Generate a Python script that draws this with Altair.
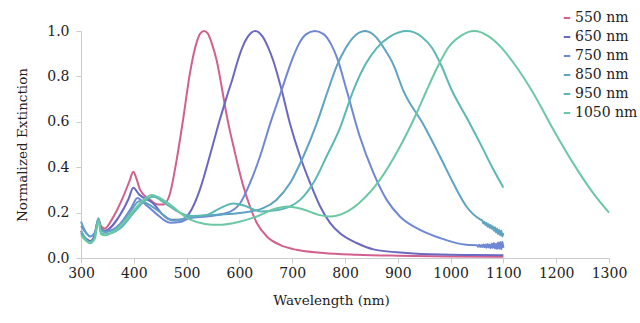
import altair as alt
import pandas as pd

# Series labels and colours
series = ["550 nm", "650 nm", "750 nm", "850 nm", "950 nm", "1050 nm"]
colors = ["#d2608f", "#6a68c0", "#6f88d4", "#5fa3c4", "#5cb8b4", "#6cc7a4"]

# Wavelength (nm) / normalized extinction
wl_550 = [300, 310, 318, 326, 333, 338, 345, 361, 380, 392, 399, 405, 412, 431, 446, 456, 468, 481, 494, 506, 519, 526, 533, 540, 547, 557, 566, 575, 582, 590, 597, 607, 620, 633, 652, 677, 708, 759, 822, 900, 1000, 1100]
v_550 = [0.12, 0.08, 0.066, 0.1, 0.17, 0.14, 0.13, 0.18, 0.27, 0.34, 0.38, 0.35, 0.30, 0.256, 0.236, 0.236, 0.28, 0.43, 0.62, 0.81, 0.95, 0.99, 1.0, 0.99, 0.95, 0.87, 0.76, 0.64, 0.56, 0.48, 0.41, 0.32, 0.227, 0.154, 0.095, 0.058, 0.036, 0.022, 0.0145, 0.01, 0.007, 0.006]

wl_650 = [300, 310, 317, 326, 333, 338, 345, 374, 390, 399, 410, 437, 455, 470, 490, 506, 525, 544, 563, 576, 587, 597, 606, 616, 630, 644, 654, 664, 680, 696, 715, 734, 753, 772, 790, 822, 854, 917, 980, 1040, 1100]
v_650 = [0.11, 0.085, 0.075, 0.1, 0.17, 0.13, 0.12, 0.19, 0.26, 0.31, 0.28, 0.24, 0.19, 0.168, 0.168, 0.2, 0.30, 0.45, 0.61, 0.71, 0.79, 0.87, 0.93, 0.975, 1.0, 0.975, 0.93, 0.87, 0.74, 0.59, 0.447, 0.33, 0.227, 0.154, 0.11, 0.066, 0.038, 0.022, 0.015, 0.013, 0.012]

wl_750 = [300, 310, 317, 326, 333, 338, 345, 374, 395, 407, 420, 440, 469, 490, 506, 538, 576, 601, 620, 639, 658, 680, 700, 712, 726, 743, 760, 774, 786, 803, 828, 854, 879, 904, 942, 980, 1030,
          1050, 1052, 1054, 1056, 1058, 1060, 1062, 1064, 1066, 1068, 1070, 1072, 1074, 1076, 1078, 1080, 1082, 1084, 1086, 1088, 1090, 1092, 1094, 1096, 1098, 1100]
v_750 = [0.14, 0.11, 0.095, 0.11, 0.17, 0.125, 0.115, 0.15, 0.22, 0.264, 0.24, 0.2, 0.155, 0.16, 0.176, 0.183, 0.198, 0.24, 0.33, 0.447, 0.59, 0.74, 0.875, 0.94, 0.985, 1.0, 0.985, 0.94, 0.875, 0.74, 0.535, 0.374, 0.256, 0.183, 0.124, 0.088, 0.058,
         0.056, 0.05, 0.058, 0.049, 0.057, 0.048, 0.06, 0.047, 0.059, 0.045, 0.062, 0.046, 0.06, 0.043, 0.064, 0.044, 0.066, 0.042, 0.063, 0.04, 0.068, 0.041, 0.07, 0.038, 0.072, 0.045]

wl_850 = [300, 310, 317, 326, 333, 338, 345, 374, 395, 410, 425, 445, 475, 506, 557, 601, 645, 670, 696, 721, 746, 768, 785, 800, 815, 838, 860, 875, 892, 910, 948, 980, 1005, 1030, 1056,
          1060, 1062, 1064, 1066, 1068, 1070, 1072, 1074, 1076, 1078, 1080, 1082, 1084, 1086, 1088, 1090, 1092, 1094, 1096, 1098, 1100]
v_850 = [0.16, 0.11, 0.095, 0.11, 0.175, 0.125, 0.115, 0.145, 0.21, 0.25, 0.24, 0.21, 0.165, 0.18, 0.19, 0.198, 0.22, 0.256, 0.33, 0.447, 0.59, 0.74, 0.85, 0.92, 0.97, 1.0, 0.97, 0.92, 0.85, 0.74, 0.59, 0.447, 0.33, 0.227, 0.17,
         0.165, 0.152, 0.16, 0.145, 0.155, 0.138, 0.15, 0.132, 0.145, 0.128, 0.14, 0.12, 0.135, 0.112, 0.13, 0.105, 0.125, 0.1, 0.12, 0.095, 0.11]

wl_950 = [300, 310, 317, 326, 333, 338, 345, 374, 400, 420, 437, 460, 487, 510, 538, 560, 588, 610, 640, 670, 696, 715, 740, 765, 790, 816, 838, 860, 885, 917, 945, 965, 982, 1002, 1030, 1056, 1081, 1100]
v_950 = [0.12, 0.08, 0.07, 0.09, 0.17, 0.11, 0.105, 0.13, 0.2, 0.25, 0.27, 0.24, 0.2, 0.185, 0.19, 0.215, 0.24, 0.23, 0.205, 0.21, 0.227, 0.256, 0.33, 0.447, 0.57, 0.74, 0.85, 0.925, 0.975, 1.0, 0.975, 0.925, 0.85, 0.74, 0.62, 0.505, 0.39, 0.31]

wl_1050 = [300, 310, 317, 326, 333, 338, 345, 374, 400, 420, 434, 460, 506, 535, 560, 600, 633, 665, 690, 720, 750, 772, 800, 828, 866, 904, 936, 955, 975, 995, 1020, 1045, 1070, 1095, 1119, 1157, 1195, 1232, 1270, 1300]
v_1050 = [0.1, 0.075, 0.065, 0.085, 0.165, 0.105, 0.1, 0.14, 0.21, 0.26, 0.278, 0.25, 0.17, 0.15, 0.146, 0.16, 0.183, 0.215, 0.227, 0.215, 0.19, 0.183, 0.2, 0.245, 0.344, 0.49, 0.64, 0.74, 0.84, 0.925, 0.98, 1.0, 0.98, 0.93, 0.86, 0.725, 0.564, 0.418, 0.286, 0.2]

wls = [wl_550, wl_650, wl_750, wl_850, wl_950, wl_1050]
vals = [v_550, v_650, v_750, v_850, v_950, v_1050]

rows = []
for name, w, v in zip(series, wls, vals):
    for a, b in zip(w, v):
        rows.append({"series": name, "wavelength": a, "value": b})
df = pd.DataFrame(rows)

FONT = "DejaVu Serif"

chart = alt.Chart(df).mark_line(strokeWidth=2, interpolate="monotone").encode(
    x=alt.X("wavelength:Q",
            scale=alt.Scale(domain=[300, 1300], nice=False, zero=False),
            axis=alt.Axis(title="Wavelength (nm)", values=list(range(300, 1301, 100)),
                          format="d", grid=False, tickSize=5, labelPadding=3,
                          labelFlush=False, titlePadding=13, titleX=250)),
    y=alt.Y("value:Q",
            scale=alt.Scale(domain=[0, 1.0], nice=False),
            axis=alt.Axis(title="Normalized Extinction", values=[0, 0.2, 0.4, 0.6, 0.8, 1.0],
                          format=".1f", grid=False, tickSize=5, labelPadding=7,
                          labelFlush=False, titlePadding=17)),
    color=alt.Color("series:N", sort=series,
                    scale=alt.Scale(domain=series, range=colors),
                    legend=alt.Legend(title=None, orient="none", legendX=479, legendY=-20,
                                      symbolType="stroke", symbolStrokeWidth=2,
                                      symbolSize=42, rowPadding=5, labelFontSize=14,
                                      labelFont=FONT, labelColor="#222222", labelOffset=1)),
    detail="series:N",
).properties(
    width=528, height=227,
    autosize=alt.AutoSizeParams(type="none"),
    padding={"left": 81, "top": 31, "right": 31, "bottom": 65},
).configure_view(stroke=None).configure_axis(
    domainColor="#cccccc", tickColor="#cccccc", labelFont=FONT, titleFont=FONT,
    labelFontSize=14, titleFontSize=13.5, titleFontWeight="normal",
    labelColor="#222222", titleColor="#222222",
)

chart.save("out.html", embed_options={"renderer": "svg", "actions": False})
